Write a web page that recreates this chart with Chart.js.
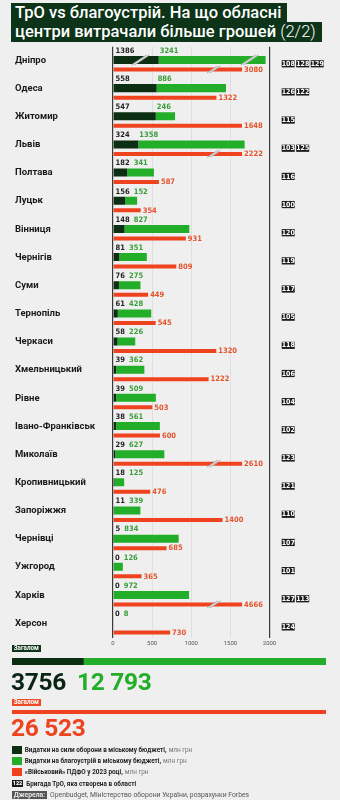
<!DOCTYPE html>
<html lang="uk">
<head>
<meta charset="utf-8">
<script src="https://cdn.jsdelivr.net/npm/chart.js@4.4.1/dist/chart.umd.min.js"></script>
<style>
  body { margin: 0; width: 340px; height: 800px; background: #efefef; position: relative; overflow: hidden;
         font-family: Roboto, "Noto Sans", sans-serif; color: #1a1a1a; }
  .abs { position: absolute; }
  .title { left: 11px; top: 3px; color: #fff; font-size: 16.5px; font-weight: 500; line-height: 19.4px; }
  .title span { display: inline-block; background: #0d3318; padding: 0 6px 0 4px; white-space: nowrap; }
  .title .light { font-weight: 300; background: none; padding: 0; }
  .tag { font-size: 6.3px; font-weight: 700; color: #fff; line-height: 7px; padding: 0 2px; }
  .big { font-size: 24.5px; font-weight: 700; line-height: 24.5px; letter-spacing: -0.3px; }
  .legend { left: 11.7px; top: 746px; font-size: 6.4px; font-weight: 700; color: #1f1f1f; }
  .legend div { height: 11.2px; display: flex; align-items: flex-start; }
  .legend i { display: inline-block; width: 10px; height: 8px; margin-right: 3px; }
  .legend b { display: inline-block; background: #1c1c1c; color: #fff; font-size: 5.5px; line-height: 7px; padding: 0 1px; margin-right: 3px; }
  .legend em { font-style: normal; font-weight: 400; color: #777; margin-left: 2px; }
  .src { left: 11.7px; top: 792px; font-size: 6.8px; color: #555; line-height: 7.5px; }
  .src span { background: #555; color: #e8e8e8; font-weight: 700; padding: 0 2px; margin-right: 3px; }
</style>
</head>
<body>
<div class="abs title">
  <div><span>ТрО vs благоустрій. На що обласні</span></div>
  <div><span>центри витрачали більше грошей <span class="light">(2/2)</span></span></div>
</div>

<div class="abs" style="left:0; top:44px; width:340px; height:604px;"><canvas id="cities"></canvas></div>

<div class="abs tag" style="left:11.7px; top:645px; background:#0d3318;">Загалом</div>
<div class="abs" style="left:11.7px; top:657.7px; width:314.3px; height:7.3px;"><canvas id="totalBudget"></canvas></div>
<div class="abs big" id="totTro" style="left:11px; top:670px; color:#0c2412;"></div>
<div class="abs big" id="totGreen" style="left:77px; top:670px; color:#23ae2a;"></div>
<div class="abs tag" style="left:11.7px; top:699px; background:#ef4a26;">Загалом</div>
<div class="abs" style="left:11.7px; top:710px; width:314.3px; height:3.5px;"><canvas id="totalPdfo"></canvas></div>
<div class="abs big" id="totPdfo" style="left:11px; top:716px; color:#ef4320;"></div>

<div class="abs legend">
  <div><i style="background:#0c2f14"></i>Видатки на сили оборони в міському бюджеті,<em>млн грн</em></div>
  <div><i style="background:#23ae2a"></i>Видатки на благоустрій в міському бюджеті,<em>млн грн</em></div>
  <div><i style="background:#ef4320"></i>«Військовий» ПДФО у 2023 році,<em>млн грн</em></div>
  <div><b>122</b>Бригада ТрО, яка створена в області</div>
</div>
<div class="abs src"><span>Джерела:</span>Openbudget, Міністерство оборони України, розрахунки Forbes</div>

<script>
// Дані: міста, видатки (млн грн), бригади ТрО
const cities = ['Дніпро', 'Одеса', 'Житомир', 'Львів', 'Полтава', 'Луцьк', 'Вінниця', 'Чернігів', 'Суми', 'Тернопіль',
    'Черкаси', 'Хмельницький', 'Рівне', 'Івано-Франківськ', 'Миколаїв', 'Кропивницький', 'Запоріжжя', 'Чернівці',
    'Ужгород', 'Харків', 'Херсон'];
const troSpend = [1386, 558, 547, 324, 182, 156, 148, 81, 76, 61, 58, 39, 39, 38, 29, 18, 11, 5, 0, 0, 0];
const greenSpend = [3241, 886, 246, 1358, 341, 152, 827, 351, 275, 428, 226, 362, 509, 561, 627, 125, 339, 834, 126, 972, 8];
const militaryPdfo = [3080, 1322, 1648, 2222, 587, 354, 931, 809, 449, 545, 1320, 1222, 503, 600, 2610, 476, 1400, 685, 365, 4666, 730];
const brigades = [[108, 128, 129], [126, 122], [115], [103, 125], [116], [100], [120], [119], [117], [105],
    [118], [106], [104], [102], [123], [121], [110], [107], [101], [127, 113], [124]];
const xTicks = [0, 500, 1000, 1500, 2000];

const TOTAL_TRO = 3756;
const TOTAL_GREEN = 12793;
const TOTAL_PDFO = 26523;

const DARK = '#0c2f14';
const GREEN = '#23ae2a';
const RED = '#ef4320';
const BG = '#efefef';
const NARROW = '"Liberation Sans Narrow", "DejaVu Sans Condensed", sans-serif';

// Розрив шкали: довгі смуги обрізаються
const AXIS_MAX = 2000;
const STACK_CUT = 1950;
const RED_CUT = 1650;

const stackScale = troSpend.map((v, i) => {
    const total = v + greenSpend[i];
    return total > AXIS_MAX ? STACK_CUT / total : 1;
});
const troShown = troSpend.map((v, i) => v * stackScale[i]);
const greenShown = greenSpend.map((v, i) => v * stackScale[i]);
const redShown = militaryPdfo.map(v => (v > AXIS_MAX ? RED_CUT : v));

function fmt(n) {
    return n >= 10000 ? String(n).replace(/\B(?=(\d{3})+(?!\d))/g, ' ') : String(n);
}

function drawBreak(ctx, x, top, bottom, ext) {
    const h = bottom - top + ext * 2;
    const dx = h * 0.75;
    ctx.save();
    ctx.lineWidth = 2.4;
    ctx.strokeStyle = BG;
    ctx.beginPath();
    ctx.moveTo(x - dx, bottom + ext);
    ctx.lineTo(x + dx, top - ext);
    ctx.stroke();
    ctx.lineWidth = 0.6;
    ctx.strokeStyle = '#7a7a7a';
    [-1.4, 1.4].forEach(o => {
        ctx.beginPath();
        ctx.moveTo(x - dx + o, bottom + ext);
        ctx.lineTo(x + dx + o, top - ext);
        ctx.stroke();
    });
    ctx.restore();
}

const rowDecor = {
    id: 'rowDecor',
    afterDatasetsDraw(chart) {
        const ctx = chart.ctx;
        const mDark = chart.getDatasetMeta(0);
        const mRed = chart.getDatasetMeta(2);
        const yScale = chart.scales.y;
        const xScale = chart.scales.x;
        ctx.save();
        cities.forEach((c, i) => {
            const d = mDark.data[i], r = mRed.data[i];
            const half = d.height / 2;

            // розриви
            if (stackScale[i] < 1) {
                drawBreak(ctx, xScale.getPixelForValue(troShown[i] * 0.6), d.y - half, d.y + half, 1);
                drawBreak(ctx, xScale.getPixelForValue(troShown[i] + greenShown[i] * 0.85), d.y - half, d.y + half, 1);
            }
            if (militaryPdfo[i] > AXIS_MAX) {
                drawBreak(ctx, xScale.getPixelForValue(RED_CUT * 0.78), r.y - r.height / 2, r.y + r.height / 2, 1.5);
            }

            // підписи значень
            ctx.font = 'bold 7.5px ' + NARROW;
            ctx.textBaseline = 'middle';
            ctx.textAlign = 'left';
            const ty = d.y - half - 5.2;
            const x0 = d.base + 2;
            ctx.fillStyle = '#1f1f1f';
            ctx.fillText(String(troSpend[i]), x0, ty);
            const w = ctx.measureText(String(troSpend[i])).width;
            ctx.fillStyle = '#3a9d3a';
            ctx.fillText(String(greenSpend[i]), Math.max(x0 + w + 4, d.x + 1), ty);
            ctx.fillStyle = '#e4532c';
            ctx.fillText(String(militaryPdfo[i]), r.x + 2, r.y + 0.3);

            // бригади
            const cy = yScale.getPixelForValue(i) + 3;
            ctx.font = 'bold 7px ' + NARROW;
            ctx.textAlign = 'center';
            brigades[i].forEach((b, k) => {
                const bx = chart.chartArea.right + 12.2 + k * 14.5;
                ctx.fillStyle = '#1c1c1c';
                ctx.fillRect(bx, cy - 3.6, 13, 7.2);
                ctx.fillStyle = '#fff';
                ctx.fillText(String(b), bx + 6.5, cy + 0.3);
            });
        });
        ctx.restore();
    }
};

Chart.defaults.font.family = 'Roboto, "Noto Sans", sans-serif';

// Дві групи в рядку: бюджетна смуга трохи вище центру, ПДФО нижче
const budgetBar = { stack: 'budget', categoryPercentage: 0.114, barPercentage: 5 };
const pdfoBar = { stack: 'pdfo', categoryPercentage: 1.236, barPercentage: 0.23 };

new Chart(document.getElementById('cities'), {
    type: 'bar',
    data: {
        labels: cities,
        datasets: [
            { label: 'ТрО', data: troShown, backgroundColor: DARK, ...budgetBar },
            { label: 'Благоустрій', data: greenShown, backgroundColor: GREEN, ...budgetBar },
            { label: 'ПДФО', data: redShown, backgroundColor: RED, ...pdfoBar }
        ]
    },
    options: {
        indexAxis: 'y',
        responsive: true,
        maintainAspectRatio: false,
        animation: false,
        layout: { padding: { top: 2.7, left: 15, right: 70.5, bottom: 0 } },
        plugins: { legend: { display: false }, tooltip: { enabled: false } },
        scales: {
            x: {
                min: 0, max: AXIS_MAX, stacked: true,
                afterBuildTicks: s => { s.ticks = xTicks.map(v => ({ value: v })); },
                afterFit: s => { s.height = 10; s.paddingLeft = 0; s.paddingRight = 0; },
                border: { display: false },
                grid: {
                    drawTicks: false,
                    color: c => (c.tick.value === 0 || c.tick.value === AXIS_MAX) ? '#3a3a3a' : '#d8d8d8',
                    lineWidth: c => (c.tick.value === 0 || c.tick.value === AXIS_MAX) ? 1.2 : 0.7
                },
                ticks: { padding: 1.5, color: '#555', font: { size: 6 }, callback: v => String(v) }
            },
            y: {
                afterFit: s => { s.width = 98; s.paddingTop = 0; s.paddingBottom = 0; },
                border: { display: false },
                grid: { display: false },
                ticks: { crossAlign: 'far', color: '#1a1a1a', labelOffset: -0.5, font: { size: 9.5, weight: 'bold' } }
            }
        }
    },
    plugins: [rowDecor]
});

// Загальні суми
function totalBar(id, datasets, max) {
    new Chart(document.getElementById(id), {
        type: 'bar',
        data: { labels: ['Загалом'], datasets },
        options: {
            indexAxis: 'y',
            responsive: true,
            maintainAspectRatio: false,
            animation: false,
            layout: { padding: 0 },
            plugins: { legend: { display: false }, tooltip: { enabled: false } },
            scales: {
                x: { display: false, stacked: true, min: 0, max },
                y: { display: false, stacked: true }
            }
        }
    });
}

totalBar('totalBudget', [
    { data: [TOTAL_TRO], backgroundColor: DARK, barPercentage: 1, categoryPercentage: 1 },
    { data: [TOTAL_GREEN], backgroundColor: GREEN, barPercentage: 1, categoryPercentage: 1 }
], TOTAL_TRO + TOTAL_GREEN);
totalBar('totalPdfo', [
    { data: [TOTAL_PDFO], backgroundColor: RED, barPercentage: 1, categoryPercentage: 1 }
], TOTAL_PDFO);

document.getElementById('totTro').textContent = fmt(TOTAL_TRO);
document.getElementById('totGreen').textContent = fmt(TOTAL_GREEN);
document.getElementById('totPdfo').textContent = fmt(TOTAL_PDFO);
</script>
</body>
</html>
